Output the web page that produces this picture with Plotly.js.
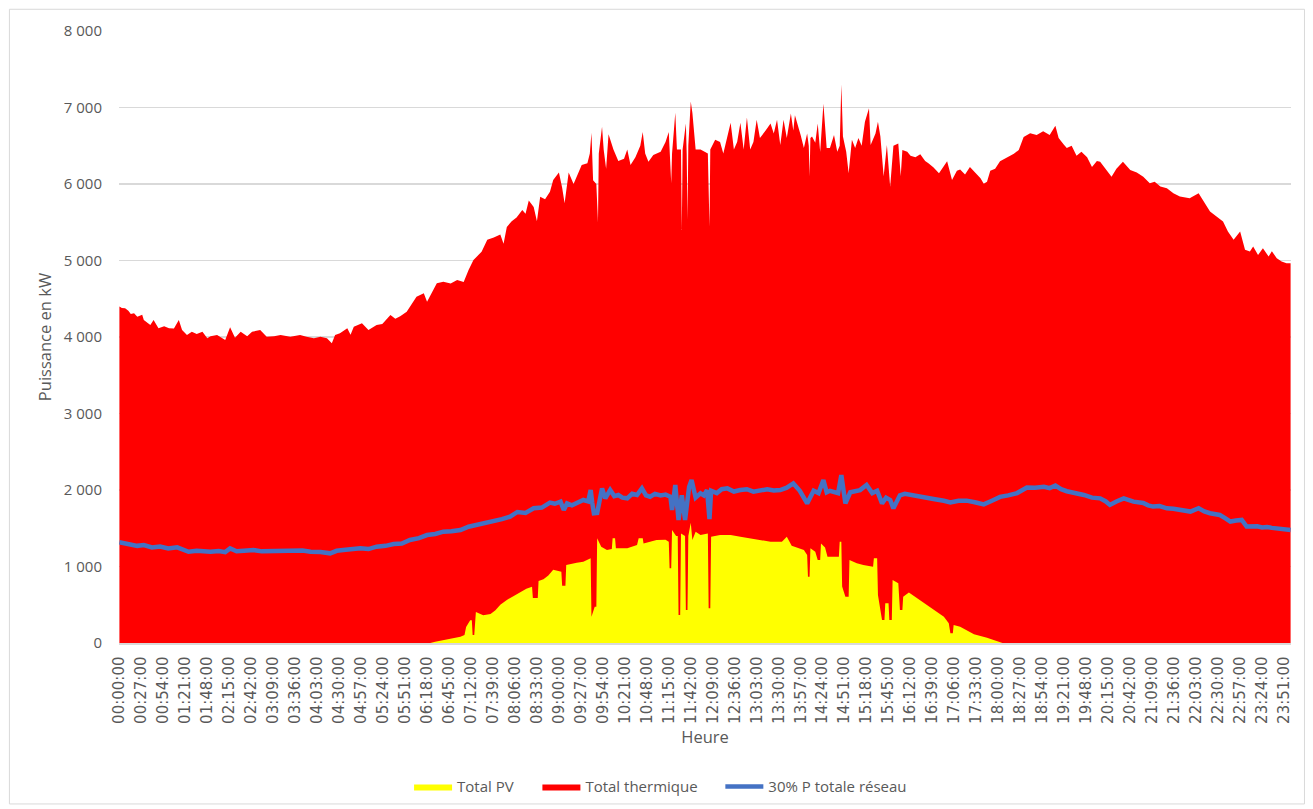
<!DOCTYPE html>
<html>
<head>
<meta charset="utf-8">
<script src="https://cdn.plot.ly/plotly-3.0.1.min.js"></script>
<style>
html,body{margin:0;padding:0;background:#ffffff;width:1313px;height:809px;overflow:hidden;}
#chart{width:1313px;height:809px;overflow:hidden;}
</style>
</head>
<body>
<div id="chart"></div>
<script>
// X-axis tick labels (category labels shown every 27 minutes)
const tickLabels = ["00:00:00","00:27:00","00:54:00","01:21:00","01:48:00","02:15:00","02:42:00","03:09:00","03:36:00","04:03:00","04:30:00","04:57:00","05:24:00","05:51:00","06:18:00","06:45:00","07:12:00","07:39:00","08:06:00","08:33:00","09:00:00","09:27:00","09:54:00","10:21:00","10:48:00","11:15:00","11:42:00","12:09:00","12:36:00","13:03:00","13:30:00","13:57:00","14:24:00","14:51:00","15:18:00","15:45:00","16:12:00","16:39:00","17:06:00","17:33:00","18:00:00","18:27:00","18:54:00","19:21:00","19:48:00","20:15:00","20:42:00","21:09:00","21:36:00","22:03:00","22:30:00","22:57:00","23:24:00","23:51:00"];

// Top of the red area: total network power (PV + thermal), kW
const totalPower = [
["00:00",4400],["00:03",4380],["00:07",4375],["00:11",4344],["00:14",4300],["00:18",4310],["00:22",4266],["00:28",4290],["00:30",4222],["00:38",4157],
["00:42",4222],["00:48",4113],["00:55",4140],["01:01",4113],["01:07",4110],["01:13",4222],["01:17",4090],["01:23",4026],["01:29",4070],["01:35",4040],
["01:42",4070],["01:48",3983],["01:52",4010],["02:00",4026],["02:10",3961],["02:16",4126],["02:22",3990],["02:29",4070],["02:37",4010],["02:43",4070],
["02:53",4090],["03:01",4004],["03:10",4010],["03:18",4026],["03:30",4004],["03:42",4026],["03:50",4004],["03:59",3983],["04:07",4004],["04:15",3983],
["04:21",3918],["04:25",4026],["04:31",4048],["04:40",4113],["04:44",4030],["04:48",4135],["04:58",4179],["05:06",4092],["05:16",4157],["05:23",4170],
["05:33",4288],["05:39",4240],["05:45",4270],["05:53",4331],["06:05",4527],["06:14",4571],["06:18",4462],["06:30",4702],["06:38",4723],["06:47",4700],
["06:55",4745],["07:03",4720],["07:09",4876],["07:15",5007],["07:19",5050],["07:25",5115],["07:32",5270],["07:40",5300],["07:48",5341],["07:52",5219],
["07:56",5439],["08:02",5514],["08:08",5562],["08:15",5660],["08:19",5610],["08:23",5783],["08:29",5700],["08:33",5514],["08:37",5832],["08:43",5800],
["08:49",5900],["08:53",6052],["09:00",6150],["09:04",5950],["09:07",5750],["09:12",6150],["09:18",6000],["09:24",6150],["09:28",6250],["09:35",6270],
["09:38",6400],["09:40",6670],["09:42",6050],["09:46",6000],["09:48",5500],["09:49",6400],["09:53",6750],["09:55",6450],["09:58",6200],["10:01",6650],
["10:07",6450],["10:13",6300],["10:20",6330],["10:24",6450],["10:28",6250],["10:34",6350],["10:40",6500],["10:43",6680],["10:46",6400],["10:50",6290],
["10:56",6380],["11:05",6420],["11:11",6550],["11:15",6680],["11:17",6300],["11:18",6010],["11:19",6400],["11:23",6930],["11:25",6450],["11:30",6450],
["11:31",5400],["11:32",6450],["11:36",6790],["11:37",6400],["11:38",5530],["11:39",6500],["11:42",7080],["11:44",6930],["11:48",6450],["11:54",6450],
["12:03",6400],["12:05",5440],["12:06",6450],["12:12",6580],["12:18",6550],["12:22",6400],["12:31",6800],["12:35",6450],["12:39",6550],["12:43",6800],
["12:47",6450],["12:51",6870],["12:55",6450],["12:59",6550],["13:03",6840],["13:07",6600],["13:14",6700],["13:20",6790],["13:24",6660],["13:28",6840],
["13:32",6510],["13:36",6840],["13:40",6600],["13:45",6920],["13:48",6700],["13:50",6900],["13:57",6640],["14:01",6470],["14:05",6660],["14:07",6500],
["14:08",6100],["14:09",6600],["14:11",6620],["14:15",6540],["14:18",6790],["14:21",6420],["14:25",7050],["14:29",6470],["14:33",6470],["14:38",6640],
["14:42",6420],["14:45",6500],["14:47",7300],["14:49",6620],["14:53",6420],["14:56",6140],["15:00",6580],["15:04",6470],["15:08",6600],["15:12",6500],
["15:16",6815],["15:21",6990],["15:23",6510],["15:29",6660],["15:32",6815],["15:35",6620],["15:39",6100],["15:43",6510],["15:47",5965],["15:51",6500],
["15:57",6530],["16:00",6100],["16:02",6445],["16:08",6420],["16:12",6370],["16:18",6350],["16:24",6390],["16:30",6300],["16:34",6270],["16:40",6220],
["16:47",6140],["16:51",6200],["16:57",6297],["17:03",6052],["17:09",6174],["17:13",6190],["17:19",6125],["17:25",6223],["17:31",6150],["17:38",6076],
["17:42",6003],["17:46",6030],["17:50",6174],["17:56",6200],["18:02",6297],["18:10",6346],["18:19",6395],["18:25",6444],["18:31",6615],["18:39",6665],
["18:47",6640],["18:55",6689],["19:03",6640],["19:10",6763],["19:14",6600],["19:20",6518],["19:24",6470],["19:30",6500],["19:36",6370],["19:42",6420],
["19:49",6350],["19:55",6223],["20:01",6300],["20:05",6290],["20:11",6205],["20:19",6096],["20:25",6200],["20:33",6292],["20:42",6183],["20:50",6150],
["20:58",6096],["21:06",6009],["21:12",6030],["21:19",5966],["21:27",5944],["21:35",5879],["21:43",5835],["21:55",5813],["22:06",5879],["22:12",5770],
["22:20",5640],["22:28",5574],["22:36",5509],["22:42",5378],["22:49",5270],["22:57",5378],["23:03",5139],["23:09",5117],["23:13",5182],["23:19",5073],
["23:25",5160],["23:32",5052],["23:36",5120],["23:42",5030],["23:48",4987],["23:54",4965],["23:59",4965]
];

// Total PV, kW
const totalPV = [
["00:00",0],["06:22",0],["06:28",17],["06:38",39],["06:50",61],["06:59",83],["07:04",105],["07:06",209],["07:11",296],["07:13",296],
["07:14",105],["07:16",105],["07:18",405],["07:27",362],["07:36",380],["07:42",427],["07:48",500],["07:56",563],["08:04",612],["08:12",661],
["08:20",710],["08:27",735],["08:28",588],["08:34",588],["08:35",809],["08:41",833],["08:47",882],["08:53",956],["09:03",932],["09:04",749],
["09:08",749],["09:09",1020],["09:16",1040],["09:22",1050],["09:30",1063],["09:39",1107],["09:40",344],["09:44",474],["09:46",474],["09:47",1368],
["09:52",1259],["09:59",1215],["10:05",1230],["10:06",1368],["10:09",1368],["10:10",1237],["10:24",1237],["10:36",1280],["10:38",1368],["10:43",1368],
["10:44",1302],["11:00",1346],["11:11",1350],["11:15",1324],["11:16",976],["11:18",976],["11:19",1477],["11:24",1400],["11:26",1400],["11:27",366],
["11:29",366],["11:30",1433],["11:35",1400],["11:36",431],["11:38",431],["11:39",1400],["11:42",1572],["11:44",1346],["11:48",1455],["11:54",1411],
["12:03",1433],["12:04",453],["12:06",453],["12:07",1389],["12:18",1411],["12:31",1411],["12:43",1389],["12:55",1368],["13:07",1346],["13:20",1324],
["13:34",1324],["13:40",1389],["13:46",1270],["14:01",1215],["14:05",1150],["14:06",865],["14:08",865],["14:09",1237],["14:15",1193],["14:18",1085],
["14:21",1085],["14:22",1302],["14:27",1250],["14:30",1128],["14:44",1128],["14:45",1324],["14:47",1324],["14:48",737],["14:52",606],["14:56",606],
["14:57",1085],["15:06",1041],["15:14",1019],["15:26",998],["15:27",1107],["15:31",1107],["15:32",628],["15:37",301],["15:40",301],["15:41",519],
["15:45",519],["15:46",301],["15:49",301],["15:50",824],["15:57",780],["15:59",431],["16:02",431],["16:03",606],["16:10",659],["16:20",584],
["16:32",497],["16:44",410],["16:53",344],["16:59",257],["17:01",126],["17:04",126],["17:05",235],["17:13",214],["17:17",190],["17:30",116],
["17:46",67],["17:58",27],["18:05",0],["23:59",0]
];

// 30% of total network power, kW
const share30 = [
["00:00",1316],["00:07",1300],["00:14",1290],["00:22",1270],["00:30",1281],["00:40",1250],["00:50",1260],["01:00",1235],["01:11",1250],["01:18",1215],
["01:25",1193],["01:35",1205],["01:52",1193],["02:02",1203],["02:10",1188],["02:16",1236],["02:24",1200],["02:33",1206],["02:45",1215],["02:55",1198],
["03:14",1206],["03:30",1200],["03:45",1208],["03:55",1193],["04:07",1190],["04:19",1172],["04:27",1205],["04:35",1216],["04:45",1225],["04:56",1237],
["05:06",1228],["05:16",1259],["05:27",1270],["05:37",1294],["05:47",1300],["05:57",1346],["06:08",1370],["06:18",1411],["06:28",1425],["06:38",1455],
["06:48",1460],["06:59",1477],["07:09",1520],["07:19",1542],["07:30",1570],["07:40",1586],["07:50",1620],["08:00",1651],["08:09",1713],["08:19",1700],
["08:29",1762],["08:39",1770],["08:49",1835],["08:55",1820],["09:02",1847],["09:06",1738],["09:10",1825],["09:16",1800],["09:22",1830],["09:30",1869],
["09:36",1850],["09:39",1999],["09:41",1830],["09:43",1695],["09:47",1700],["09:53",2021],["09:57",1891],["10:03",1999],["10:08",1920],["10:13",1934],
["10:18",1900],["10:24",1891],["10:30",1950],["10:36",1934],["10:42",2021],["10:47",1930],["10:52",1912],["10:58",1950],["11:05",1930],["11:11",1940],
["11:17",1912],["11:19",1738],["11:23",2065],["11:27",1608],["11:31",1930],["11:35",1608],["11:40",2043],["11:43",2130],["11:48",1900],["11:54",1956],
["11:58",1930],["12:02",1999],["12:05",1620],["12:07",1990],["12:14",1960],["12:20",2010],["12:27",2021],["12:35",1980],["12:43",1999],["12:51",2010],
["12:59",1978],["13:07",1990],["13:16",2010],["13:24",1995],["13:32",1999],["13:40",2030],["13:48",2086],["13:56",1990],["14:05",1825],["14:13",1990],
["14:19",1960],["14:25",2130],["14:29",1970],["14:33",1990],["14:38",1978],["14:43",1960],["14:47",2195],["14:52",1825],["14:58",1970],["15:04",1980],
["15:10",1999],["15:18",2065],["15:25",1960],["15:31",1990],["15:37",1825],["15:42",1900],["15:47",1870],["15:51",1760],["15:59",1930],["16:05",1950],
["16:12",1935],["16:22",1910],["16:32",1891],["16:42",1880],["16:53",1860],["17:01",1837],["17:11",1860],["17:21",1861],["17:31",1840],["17:42",1812],
["17:52",1860],["18:02",1910],["18:12",1930],["18:23",1960],["18:35",2033],["18:45",2030],["18:56",2043],["19:03",2025],["19:10",2058],["19:17",2010],
["19:24",1984],["19:35",1960],["19:45",1935],["19:55",1900],["20:05",1891],["20:12",1850],["20:17",1805],["20:25",1850],["20:34",1891],["20:46",1848],
["20:58",1830],["21:04",1800],["21:10",1783],["21:18",1790],["21:27",1761],["21:35",1755],["21:43",1739],["21:50",1730],["21:56",1718],["22:06",1761],
["22:13",1720],["22:20",1696],["22:32",1674],["22:39",1630],["22:45",1587],["22:52",1600],["22:59",1609],["23:05",1522],["23:12",1530],["23:18",1525],
["23:24",1510],["23:30",1515],["23:36",1505],["23:42",1500],["23:50",1490],["23:59",1478]
];

function toMinutes(s){ const p = s.split(':').map(Number); return p[0]*60 + p[1] + (p[2]||0)/60; }
const xs = arr => arr.map(d => toMinutes(d[0]));
const ys = arr => arr.map(d => d[1]);

const traces = [
  {name:'Total thermique', x: xs(totalPower), y: ys(totalPower), type:'scatter', mode:'lines',
   fill:'tozeroy', fillcolor:'#FF0000', line:{width:0, color:'#FF0000'}, legend:'legend2', hoverinfo:'skip'},
  {name:'Total PV', x: xs(totalPV), y: ys(totalPV), type:'scatter', mode:'lines',
   fill:'tozeroy', fillcolor:'#FFFF00', line:{width:0, color:'#FFFF00'}, legend:'legend', hoverinfo:'skip'},
  {name:'30% P totale réseau', x: xs(share30), y: ys(share30), type:'scatter', mode:'lines',
   line:{width:4.5, color:'#4472C4'}, legend:'legend3', hoverinfo:'skip'}
];

const legendBase = {orientation:'h', xanchor:'left', y:-0.235, yanchor:'middle',
  font:{size:15, color:'#595959'}, itemwidth:38, bgcolor:'rgba(0,0,0,0)'};

const layout = {
  width:1313, height:809,
  margin:{l:119, r:22, t:31, b:166, autoexpand:false},
  paper_bgcolor:'#ffffff', plot_bgcolor:'#ffffff',
  separators:', ',
  font:{family:'"Open Sans", sans-serif', size:15, color:'#595959'},
  showlegend:true,
  legend: Object.assign({}, legendBase, {x:0.2475}),
  legend2: Object.assign({}, legendBase, {x:0.3570}),
  legend3: Object.assign({}, legendBase, {x:0.5131}),
  xaxis:{type:'linear', range:[-0.5,1439.5], tickmode:'array',
         tickvals: tickLabels.map(toMinutes), ticktext: tickLabels, tickangle:-90,
         tickfont:{family:'"DejaVu Sans", sans-serif', size:15, color:'#595959'},
         showgrid:false, zeroline:false, showline:true, linecolor:'#D9D9D9', linewidth:1.5,
         ticks:'outside', ticklen:6, tickcolor:'rgba(0,0,0,0)', automargin:false,
         title:{text:'Heure', font:{size:16.5, color:'#595959'}, standoff:8}},
  yaxis:{range:[0,8000], tick0:0, dtick:1000, tickformat:',d',
         showgrid:true, gridcolor:'#D9D9D9', gridwidth:1.5, zeroline:false, showline:false,
         ticks:'outside', ticklen:13, tickcolor:'rgba(0,0,0,0)', automargin:false,
         tickfont:{size:15, color:'#595959'},
         title:{text:'Puissance en kW', font:{size:16.5, color:'#595959'}, standoff:8}},
  shapes:[{type:'rect', xref:'paper', yref:'paper', x0:-0.0935, x1:1.0115, y0:-0.263, y1:1.0355,
           line:{color:'#D9D9D9', width:1}, fillcolor:'rgba(0,0,0,0)', layer:'below'}]
};

Plotly.newPlot('chart', traces, layout, {displayModeBar:false, staticPlot:true});
</script>
</body>
</html>
